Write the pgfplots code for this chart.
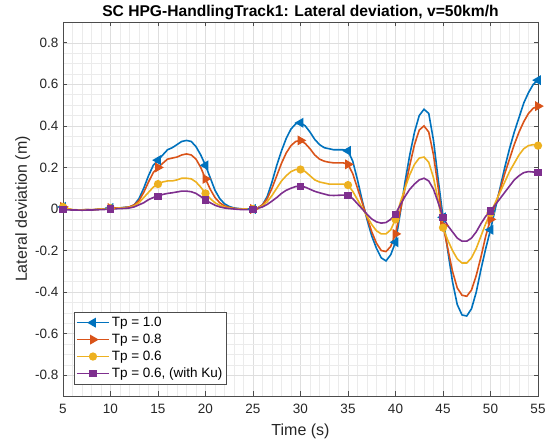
\documentclass[border=0pt]{standalone}
\usepackage{pgfplots}
\pgfplotsset{compat=1.18}
\usepackage{pgfplotstable}
\usepackage{fontspec}
\setmainfont{Liberation Sans}
\definecolor{mblue}{rgb}{0,0.447,0.741}
\definecolor{morange}{rgb}{0.85,0.325,0.098}
\definecolor{myellow}{rgb}{0.929,0.694,0.125}
\definecolor{mpurple}{rgb}{0.494,0.184,0.556}
\pgfplotstableread{
t a b c d
5 0.010 0.010 0.010 -0.003
5.5 0.000 0.000 0.002 -0.004
6 -0.005 -0.004 -0.003 -0.005
6.5 -0.005 -0.004 -0.004 -0.005
7 -0.005 -0.005 -0.004 -0.006
7.5 -0.003 -0.003 -0.003 -0.005
8 -0.005 -0.004 -0.004 -0.005
8.5 -0.002 -0.002 -0.002 -0.004
9 0.000 0.000 0.000 -0.003
9.5 0.000 0.000 0.000 -0.002
10 0.005 0.005 0.004 0.000
10.5 0.005 0.005 0.004 0.001
11 0.005 0.005 0.005 0.002
11.5 0.008 0.007 0.006 0.003
12 0.010 0.010 0.008 0.005
12.5 0.020 0.020 0.015 0.010
13 0.050 0.040 0.030 0.020
13.5 0.100 0.080 0.055 0.030
14 0.160 0.130 0.080 0.045
14.5 0.210 0.175 0.105 0.055
15 0.235 0.200 0.120 0.062
15.5 0.260 0.220 0.130 0.070
16 0.285 0.240 0.135 0.075
16.5 0.295 0.245 0.135 0.078
17 0.310 0.250 0.140 0.082
17.5 0.325 0.260 0.148 0.086
18 0.330 0.265 0.148 0.086
18.5 0.325 0.260 0.145 0.083
19 0.300 0.240 0.130 0.075
19.5 0.260 0.200 0.105 0.060
20 0.210 0.145 0.075 0.043
20.5 0.150 0.095 0.050 0.030
21 0.090 0.055 0.030 0.018
21.5 0.050 0.030 0.018 0.010
22 0.025 0.015 0.010 0.005
22.5 0.012 0.008 0.005 0.002
23 0.005 0.003 0.002 0.000
23.5 0.002 0.001 0.000 -0.002
24 0.000 0.000 0.000 -0.003
24.5 0.000 0.000 0.000 -0.003
25 0.000 0.000 0.000 -0.002
25.5 0.005 0.005 0.005 0.003
26 0.020 0.020 0.015 0.010
26.5 0.060 0.050 0.035 0.022
27 0.130 0.100 0.065 0.038
27.5 0.210 0.160 0.100 0.055
28 0.280 0.220 0.135 0.075
28.5 0.340 0.270 0.160 0.090
29 0.385 0.305 0.180 0.100
29.5 0.410 0.325 0.190 0.108
30 0.415 0.330 0.190 0.110
30.5 0.400 0.315 0.180 0.105
31 0.370 0.290 0.160 0.095
31.5 0.335 0.260 0.140 0.085
32 0.310 0.240 0.130 0.078
32.5 0.295 0.230 0.125 0.072
33 0.290 0.225 0.120 0.066
33.5 0.285 0.222 0.120 0.065
34 0.285 0.222 0.120 0.066
34.5 0.285 0.222 0.120 0.067
35 0.280 0.215 0.115 0.065
35.5 0.230 0.170 0.085 0.050
36 0.140 0.100 0.045 0.025
36.5 0.040 0.030 0.005 0.000
37 -0.050 -0.040 -0.035 -0.025
37.5 -0.130 -0.110 -0.075 -0.048
38 -0.190 -0.165 -0.105 -0.062
38.5 -0.235 -0.200 -0.120 -0.068
39 -0.250 -0.205 -0.120 -0.065
39.5 -0.220 -0.180 -0.100 -0.050
40 -0.160 -0.120 -0.050 -0.025
40.5 -0.020 -0.010 0.030 0.020
41 0.130 0.100 0.100 0.060
41.5 0.260 0.210 0.165 0.095
42 0.370 0.310 0.215 0.120
42.5 0.450 0.380 0.245 0.140
43 0.480 0.400 0.250 0.148
43.5 0.460 0.370 0.225 0.135
44 0.330 0.260 0.150 0.095
44.5 0.140 0.100 0.040 0.030
45 -0.040 -0.080 -0.090 -0.040
45.5 -0.200 -0.190 -0.150 -0.080
46 -0.350 -0.300 -0.200 -0.110
46.5 -0.460 -0.380 -0.240 -0.140
47 -0.510 -0.415 -0.260 -0.155
47.5 -0.515 -0.420 -0.260 -0.155
48 -0.480 -0.390 -0.235 -0.140
48.5 -0.400 -0.320 -0.190 -0.110
49 -0.290 -0.230 -0.130 -0.070
49.5 -0.190 -0.130 -0.070 -0.035
50 -0.100 -0.050 -0.020 -0.010
50.5 0.000 0.020 0.030 0.020
51 0.100 0.090 0.080 0.050
51.5 0.200 0.170 0.130 0.080
52 0.290 0.240 0.180 0.110
52.5 0.370 0.310 0.220 0.140
53 0.440 0.370 0.260 0.160
53.5 0.510 0.420 0.290 0.175
54 0.560 0.460 0.305 0.180
54.5 0.600 0.485 0.310 0.178
55 0.620 0.495 0.305 0.175
}\data
\begin{document}
\begin{tikzpicture}
\useasboundingbox (-63pt,-47pt) rectangle (491pt,396pt);
\begin{axis}[
  at={(0pt,0pt)}, anchor=south west,
  scale only axis, width=475pt, height=374pt,
  xmin=5, xmax=55, ymin=-0.9, ymax=0.9,
  xtick={5,10,...,55},
  ytick={-0.8,-0.6,-0.4,-0.2,0,0.2,0.4,0.6,0.8},
  minor x tick num=4, minor y tick num=3,
  grid=both,
  major grid style={color=black!13, line width=0.5pt},
  minor grid style={color=black!8, line width=0.5pt},
  minor tick length=0pt,
  major tick length=4.5pt,
  tick align=inside,
  axis line style={color=black!70, line width=0.6pt},
  tick style={color=black!70, line width=0.6pt},
  /pgf/number format/assume math mode=true,
  ticklabel style={font=\fontsize{13.5}{15}\selectfont, color=black!85},
  xticklabel style={yshift=-4.5pt},
  yticklabel style={xshift=-1pt},
  xlabel={Time (s)}, ylabel={Lateral deviation (m)},
  label style={font=\fontsize{16}{18}\selectfont, color=black!85},
  xlabel style={at={(axis description cs:0.5,0)}, anchor=base, yshift=-40pt},
  ylabel style={at={(axis description cs:-0.076,0.5)}, anchor=base},
  title={\textbf{SC HPG-HandlingTrack1: Lateral deviation, v=50km/h}},
  title style={font=\fontsize{15.6}{18}\selectfont, at={(axis description cs:0.5,1)}, anchor=base, yshift=-0.5pt},
  legend style={at={(0.023,0.032)}, anchor=south west, font=\fontsize{13.5}{15}\selectfont,
    draw=black!70, line width=0.5pt, row sep=2pt, inner xsep=2pt, inner ysep=2.5pt},
  legend cell align=left,
  legend image code/.code={\draw[mark repeat=2,mark phase=2] plot coordinates {(0pt,0pt) (16pt,0pt) (32pt,0pt)};},
  every axis plot/.append style={line width=1.6pt, mark repeat=10},
]
\addplot[color=mblue, mark=triangle*, mark size=4.2pt, mark options={rotate=90}] table[x=t,y=a]{\data};
\addlegendentry{Tp = 1.0}
\addplot[color=morange, mark=triangle*, mark size=4.2pt, mark options={rotate=-90}] table[x=t,y=b]{\data};
\addlegendentry{Tp = 0.8}
\addplot[color=myellow, mark=*, mark size=3.3pt] table[x=t,y=c]{\data};
\addlegendentry{Tp = 0.6}
\addplot[color=mpurple, mark=square*, mark size=2.8pt] table[x=t,y=d]{\data};
\addlegendentry{Tp = 0.6, (with Ku)}
\end{axis}
\end{tikzpicture}
\end{document}
